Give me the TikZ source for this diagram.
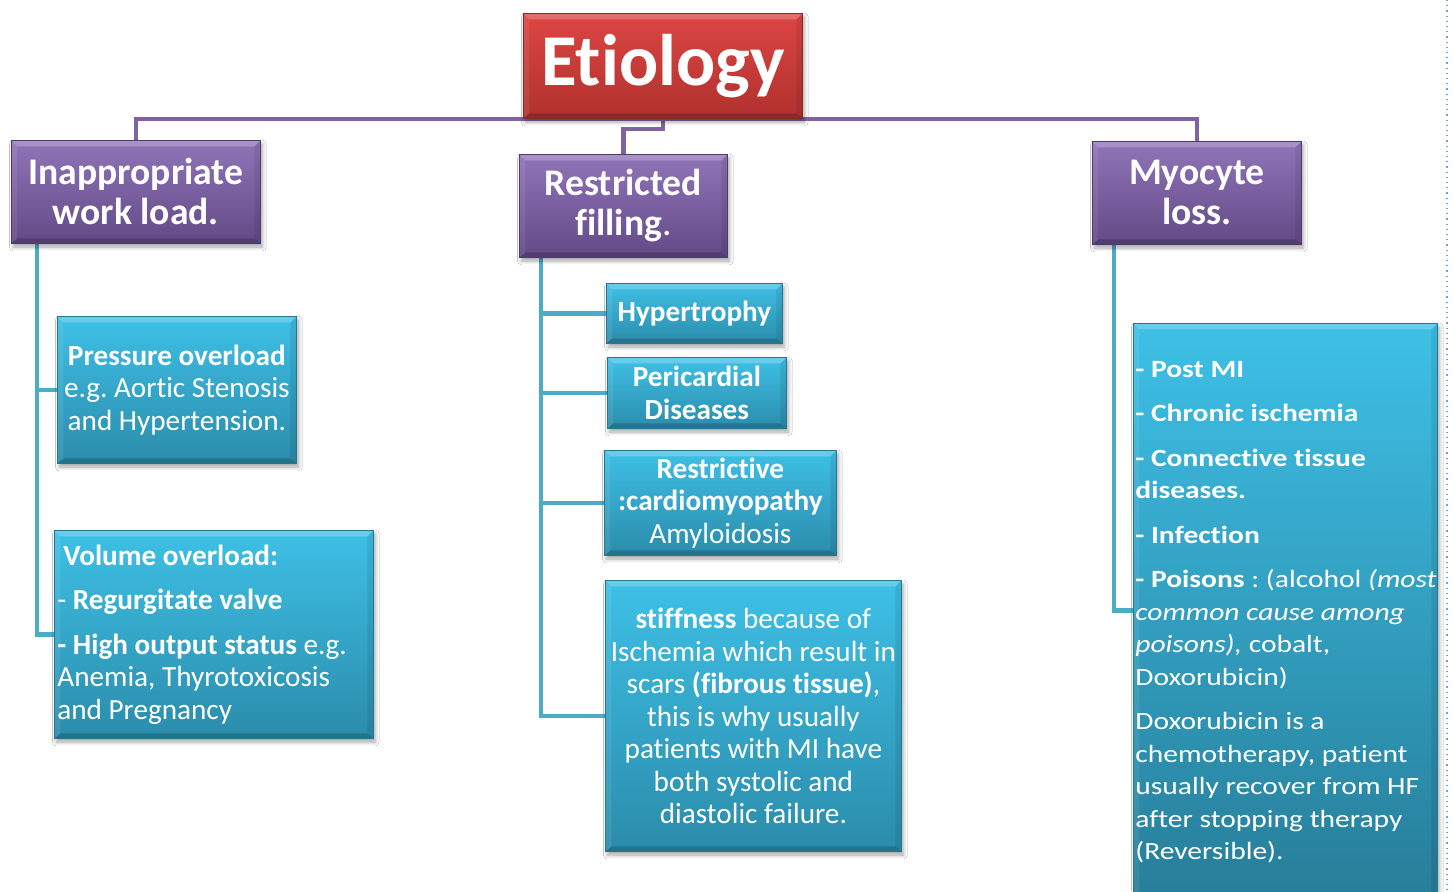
\documentclass[tikz,border=0pt]{standalone}
\usepackage{fontspec}
\setmainfont{Carlito}[Ligatures={NoCommon}]
\newfontfamily\widefont{Carlito}[FakeStretch=1.19,Ligatures={NoCommon}]
\usetikzlibrary{shadows.blur,calc,backgrounds}
\definecolor{purpTop}{HTML}{9074B8}
\definecolor{purpBot}{HTML}{624A86}
\definecolor{purpLine}{HTML}{8064A2}
\definecolor{tealTop}{HTML}{3EC0E6}
\definecolor{tealBot}{HTML}{2B8CAB}
\definecolor{tealLine}{HTML}{4BACC6}
\definecolor{redTop}{HTML}{DC4643}
\definecolor{redBot}{HTML}{B0312E}
\definecolor{dotBlue}{HTML}{6F9FD8}
\newcommand\bodyfont{\fontsize{14.6}{16.25}\selectfont}
\newcommand\headfont{\fontsize{18.8}{20}\selectfont\bfseries}
\newcommand\rightfont{\widefont\fontsize{12.4}{16.25}\selectfont}
\frenchspacing
\tikzset{
  bevel/.style={path picture={
    \fill[white,opacity=.22] (path picture bounding box.north west) -- (path picture bounding box.north east)
      -- ([shift={(-3pt,-3pt)}]path picture bounding box.north east) -- ([shift={(3pt,-3pt)}]path picture bounding box.north west) -- cycle;
    \fill[black,opacity=.18] (path picture bounding box.south west) -- (path picture bounding box.south east)
      -- ([shift={(-3pt,2.5pt)}]path picture bounding box.south east) -- ([shift={(3pt,2.5pt)}]path picture bounding box.south west) -- cycle;
    \fill[white,opacity=.08] (path picture bounding box.north west) -- ([shift={(3pt,-3pt)}]path picture bounding box.north west)
      -- ([shift={(3pt,2.5pt)}]path picture bounding box.south west) -- (path picture bounding box.south west) -- cycle;
    \fill[black,opacity=.08] (path picture bounding box.north east) -- ([shift={(-3pt,-3pt)}]path picture bounding box.north east)
      -- ([shift={(-3pt,2.5pt)}]path picture bounding box.south east) -- (path picture bounding box.south east) -- cycle;
  }},
  basebox/.style={rectangle, anchor=north west, inner sep=0pt, text=white, line width=0.4pt, bevel,
    blur shadow={shadow xshift=1pt, shadow yshift=-1.8pt, shadow opacity=35, shadow blur steps=6}},
  redbox/.style={basebox, top color=redTop, bottom color=redBot, draw=redBot!80!black},
  purpbox/.style={basebox, top color=purpTop, bottom color=purpBot, draw=purpBot!80!black, align=center, font=\headfont},
  tealbox/.style={basebox, top color=tealTop, bottom color=tealBot, draw=tealBot!85!black, align=center, font=\bodyfont},
  boxtext/.style={anchor=west, inner sep=0pt, text=white, align=left},
  pline/.style={draw=purpLine, line width=2.3pt},
  tline/.style={draw=tealLine, line width=2.4pt},
}
\begin{document}
\begin{tikzpicture}[x=0.5pt,y=-0.5pt]
\useasboundingbox (0,0) rectangle (1453,891);

% top level
\node[redbox, minimum width=139.5pt, minimum height=52.5pt, font=\fontsize{36.5}{40}\selectfont\bfseries] (E) at (523,13) {Etiology};
\node[purpbox, minimum width=124.5pt, minimum height=51.5pt] (I) at (11,140) {Inappropriate\\work load.};
\node[purpbox, minimum width=104pt, minimum height=51.5pt] (R) at (519,154) {Restricted\\filling{\mdseries.}};
\node[purpbox, minimum width=104.5pt, minimum height=51.5pt] (M) at (1092,141) {Myocyte\\loss.};

% left column
\node[tealbox, minimum width=119.5pt, minimum height=73.5pt] (P) at (57,316)
  {\textbf{Pressure overload}\\e.g. Aortic Stenosis\\and Hypertension.};
\node[tealbox, minimum width=159.5pt, minimum height=104pt] (V) at (54,530) {};
\node[boxtext, font=\bodyfont] (Vt) at ([xshift=1.5pt]V.west)
  {\hspace*{3pt}\textbf{Volume overload:}\\[6pt]
   - \textbf{Regurgitate valve}\\[6pt]
   \textbf{- High output status} e.g.\\
   Anemia, Thyrotoxicosis\\
   and Pregnancy};

% middle column
\node[tealbox, minimum width=88pt, minimum height=30pt, font=\bodyfont\bfseries] (H) at (606,283) {Hypertrophy};
\node[tealbox, minimum width=89.5pt, minimum height=35.5pt, font=\bodyfont\bfseries] (PD) at (607,357) {Pericardial\\Diseases};
\node[tealbox, minimum width=116pt, minimum height=52.5pt] (RC) at (604,450)
  {\textbf{Restrictive}\\\textbf{:cardiomyopathy}\\Amyloidosis};
\node[tealbox, minimum width=148pt, minimum height=135.5pt] (S) at (605,580)
  {\textbf{stiffness} because of\\Ischemia which result in\\scars \textbf{(fibrous tissue)},\\this is why usually\\patients with MI have\\both systolic and\\diastolic failure.};

% right column
\node[tealbox, minimum width=152pt, minimum height=287pt, top color=tealTop, bottom color=tealBot!90!black] (MC) at (1133,323) {};
\node[boxtext, font=\rightfont] (MCt) at ([xshift=1pt,yshift=-1pt]MC.west)
  {\textbf{- Post MI}\\[6pt]
   \textbf{- Chronic ischemia}\\[6pt]
   \textbf{- Connective tissue}\\
   \textbf{diseases.}\\[6pt]
   \textbf{- Infection}\\[6pt]
   \textbf{- Poisons} : (alcohol \textit{(most}\\
   \textit{common cause among}\\
   \textit{poisons),} cobalt,\\
   Doxorubicin)\\[6pt]
   Doxorubicin is a\\
   chemotherapy, patient\\
   usually recover from HF\\
   after stopping therapy\\
   (Reversible).};

% connectors
\begin{scope}[on background layer]
  \fill[white] (0,0) rectangle (1453,891);
  \draw[dotBlue, dotted, line width=0.6pt] (1447,0) -- (1447,891);
  \draw[pline] (I.north) |- (E.south) -| (M.north);
  \draw[pline] (E.south) -- ++(0,10) -| (R.north);
  \coordinate (ltop) at ($(I.south west)+(26,0)$);
  \draw[tline] (ltop) |- (P.west);
  \draw[tline] (ltop) |- (V.west);
  \coordinate (mtop) at ($(R.south west)+(22,0)$);
  \draw[tline] (mtop) |- (H.west);
  \draw[tline] (mtop) |- (PD.west);
  \draw[tline] (mtop) |- (RC.west);
  \draw[tline] (mtop) |- (S.west);
  \coordinate (rtop) at ($(M.south west)+(22,0)$);
  \draw[tline] (rtop) |- (MC.west);
\end{scope}
\end{tikzpicture}
\end{document}
